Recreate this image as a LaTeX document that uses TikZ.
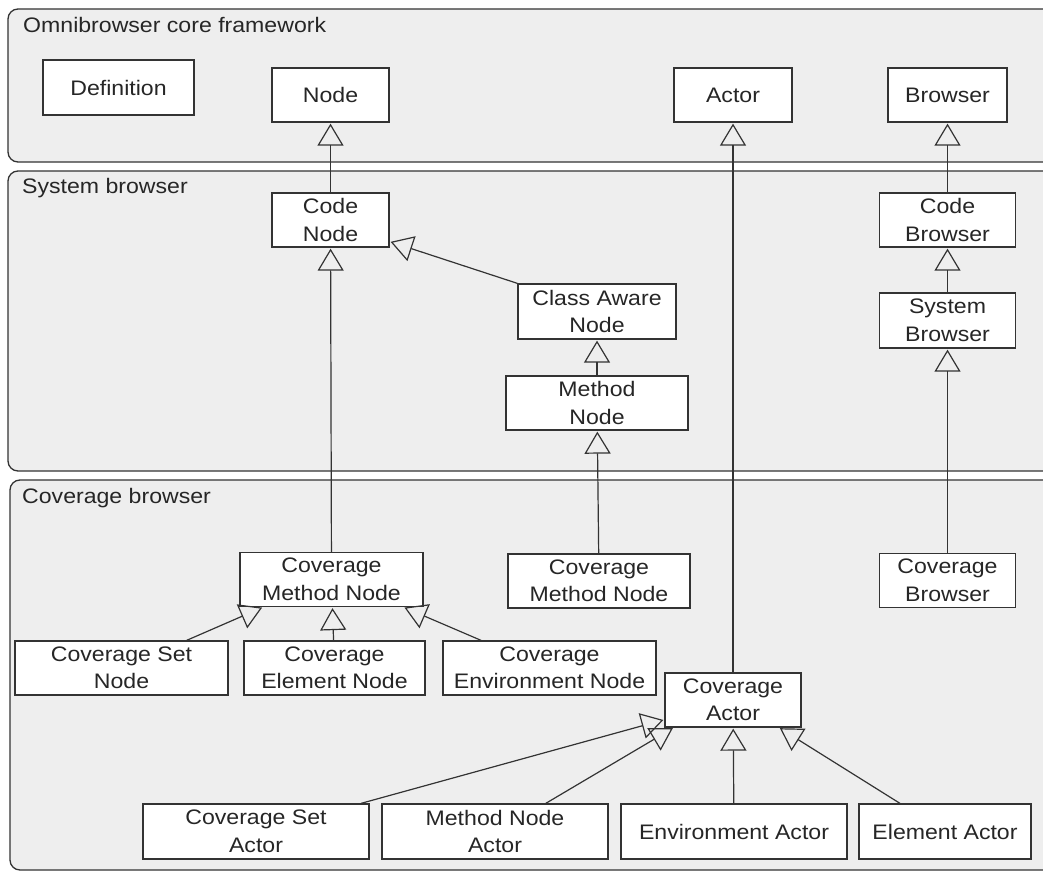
\documentclass[tikz,border=0pt]{standalone}
\usepackage{fontspec}
\setmainfont{Liberation Sans}[FakeStretch=1.1]
\usetikzlibrary{arrows.meta}
\definecolor{linec}{HTML}{333333}
\definecolor{panelc}{HTML}{EEEEEE}
\begin{document}
\begin{tikzpicture}[x=1pt,y=-1pt,>={Triangle[open,length=22pt,width=26pt]},shorten >=1pt,
  font=\fontsize{21}{27.5}\selectfont,
  panel/.style={draw=linec,fill=panelc,line width=1.3pt,rounded corners=10pt},
  umlbox/.style={draw=linec,fill=white,line width=1.3pt,align=center,minimum height=54pt,inner sep=2pt,text=black!85},
  lbl/.style={anchor=base west,inner sep=0pt,text=black!85},
  every edge/.style={draw=linec,line width=1.2pt}]

\clip (0,0) rectangle (1043,872);

% packages
\draw[panel] (8,9) rectangle (1070,162);
\draw[panel] (8,171) rectangle (1070,471);
\draw[panel] (10,480) rectangle (1070,870);
\node[lbl] (omnilbl) at (23,33) {Omnibrowser core framework};
\node[lbl] (syslbl) at (22,193) {System browser};
\node[lbl] (covlbl) at (22,503) {Coverage browser};

% omnibrowser
\node[umlbox,minimum width=151pt,minimum height=55pt] (definition) at (118.5,87.5) {Definition};
\node[umlbox,minimum width=117pt] (node) at (330.5,95) {Node};
\node[umlbox,minimum width=118pt] (actor) at (733,95) {Actor};
\node[umlbox,minimum width=119pt] (browser) at (947.5,95) {Browser};

% system browser
\node[umlbox,minimum width=117pt] (codenode) [below of=node,node distance=125pt] {Code\\Node};
\node[umlbox,minimum width=158pt,minimum height=55pt] (classaware) at (597,311.5) {Class Aware\\Node};
\node[umlbox,minimum width=182pt] (methodnode) [below of=classaware,node distance=91.5pt] {Method\\Node};
\node[umlbox,minimum width=136pt] (codebrowser) [below of=browser,node distance=125pt] {Code\\Browser};
\node[umlbox,minimum width=136pt,minimum height=55pt] (sysbrowser) [below of=codebrowser,node distance=100.5pt] {System\\Browser};

% coverage browser
\node[umlbox,minimum width=183pt] (covmethl) at (331.5,579.5) {Coverage\\Method Node};
\node[umlbox,minimum width=182pt] (covmethm) at (599,581) {Coverage\\Method Node};
\node[umlbox,minimum width=136pt] (covbrowser) [below of=sysbrowser,node distance=260pt] {Coverage\\Browser};
\node[umlbox,minimum width=213pt] (covsetnode) at (121.5,668) {Coverage Set\\Node};
\node[umlbox,minimum width=181pt] (covelemnode) at (334.5,668) {Coverage\\Element Node};
\node[umlbox,minimum width=213pt] (covenvnode) at (549.5,668) {Coverage\\Environment Node};
\node[umlbox,minimum width=136pt] (covactor) at (733,700) {Coverage\\Actor};
\node[umlbox,minimum width=226pt,minimum height=55pt] (covsetactor) at (256,831.5) {Coverage Set\\Actor};
\node[umlbox,minimum width=226pt,minimum height=55pt] (methactor) at (495,831.5) {Method Node\\Actor};
\node[umlbox,minimum width=226pt,minimum height=55pt] (envactor) at (734,831.5) {Environment Actor};
\node[umlbox,minimum width=172pt,minimum height=55pt] (elemactor) at (945,831.5) {Element Actor};

\path[->] (codenode) edge (node)
          (classaware.north west) edge (codenode.-20)
          (methodnode) edge (classaware)
          (sysbrowser) edge (codebrowser)
          (codebrowser) edge (browser)
          (covbrowser) edge (sysbrowser)
          (covmethm) edge (methodnode)
          (covmethl) edge (codenode)
          (covactor) edge (actor)
          (covsetnode.23) edge (covmethl.-158)
          (covelemnode) edge (covmethl)
          (covenvnode.158) edge (covmethl.-21)
          (covsetactor.15) edge (covactor.196)
          (methactor.29) edge (covactor.205)
          (envactor) edge (covactor)
          (elemactor.148) edge (covactor.-31.5);

\end{tikzpicture}
\end{document}
